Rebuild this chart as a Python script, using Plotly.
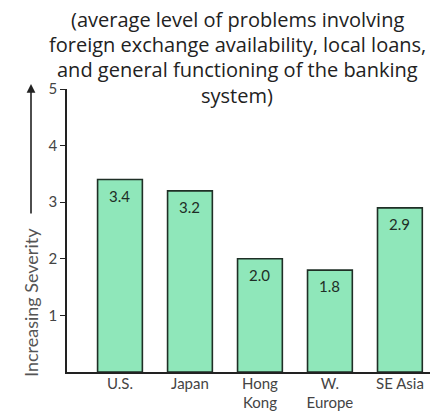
import plotly.graph_objects as go

categories = ["U.S.", "Japan", "Hong<br>Kong", "W.<br>Europe", "SE Asia"]
values = [3.4, 3.2, 2.0, 1.8, 2.9]
value_labels = ["3.4", "3.2", "2.0", "1.8", "2.9"]
y_ticks = [1, 2, 3, 4, 5]
subtitle_lines = [
    "(average level of problems involving",
    "foreign exchange availability, local loans,",
    "and general functioning of the banking",
    "system)",
]
y_title = "Increasing Severity"

FONT = "Lato"
x_idx = list(range(len(categories)))

# plot area geometry (pixels)
L, R, T, B, W, H = 67, 17, 89, 39, 447, 411
PW, PH = W - L - R, H - T - B


def px(x):
    return (x - L) / PW


def py(y):
    return (H - B - y) / PH


fig = go.Figure()
fig.add_trace(go.Bar(
    x=x_idx, y=values, width=0.64,
    marker=dict(color="#8fe7ba", line=dict(color="#1f2f26", width=1.6)),
    hoverinfo="skip",
))

for xi, v, lab in zip(x_idx, values, value_labels):
    fig.add_annotation(x=xi, y=v, xref="x", yref="y", text=lab, showarrow=False,
                       yanchor="top", yshift=-5,
                       font=dict(family=FONT, size=15, color="#1e2e26"))

# subtitle lines
for i, line in enumerate(subtitle_lines):
    fig.add_annotation(
        xref="paper", yref="paper", x=px(237), y=py(19 + 25.5 * i), xanchor="center", yanchor="middle",
        text=line, showarrow=False,
        font=dict(family="Open Sans", size=20, color="#222222"))

# y-axis title with arrow
fig.add_annotation(xref="paper", yref="paper", x=px(31), y=py(303), text=y_title,
                   textangle=-90, showarrow=False, xanchor="center", yanchor="middle",
                   font=dict(family=FONT, size=18, color="#555555"))
fig.add_annotation(xref="paper", yref="paper", x=px(31), y=py(84), text="",
                   showarrow=True, ax=0, ay=131, arrowhead=2, arrowsize=1.1,
                   arrowwidth=1.6, arrowcolor="#222222")

fig.update_layout(
    width=W, height=H,
    margin=dict(l=L, r=R, t=T, b=B),
    paper_bgcolor="white", plot_bgcolor="white",
    showlegend=False,
    xaxis=dict(range=[-0.757, 4.43], tickmode="array", tickvals=x_idx, ticktext=categories,
               automargin=False, ticklabelstandoff=-3,
               showgrid=False, zeroline=False, showline=True, linecolor="#222222", linewidth=1.6,
               ticks="", tickfont=dict(family=FONT, size=15, color="#444444")),
    yaxis=dict(range=[0, 5], tickmode="array", tickvals=y_ticks, showgrid=False, zeroline=False,
               automargin=False,
               showline=True, linecolor="#222222", linewidth=1.6, ticks="outside", ticklen=5,
               tickcolor="#222222", tickwidth=1.4,
               tickfont=dict(family=FONT, size=15, color="#444444")),
)

fig.write_html("out.html")
